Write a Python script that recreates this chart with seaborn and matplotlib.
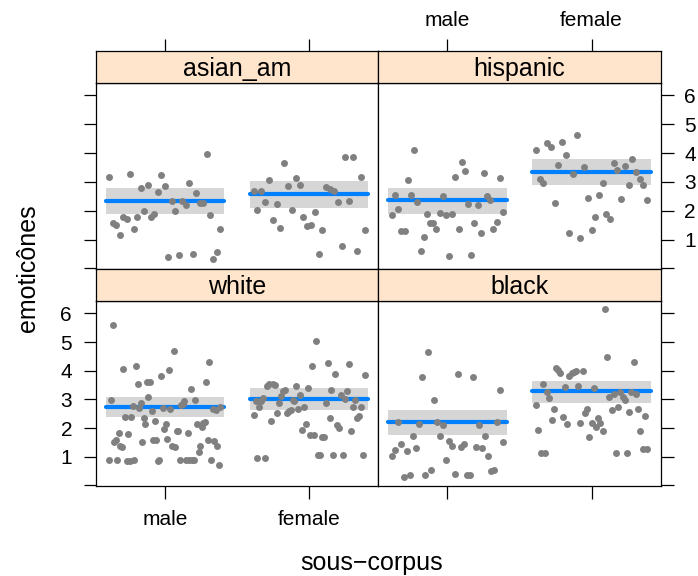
import numpy as np
import pandas as pd
import matplotlib
matplotlib.use("Agg")
import matplotlib.pyplot as plt
import seaborn as sns

sns.set_style("white")
plt.rcParams['font.family'] = ['Liberation Sans', 'DejaVu Sans']
plt.rcParams['text.color'] = 'black'
plt.rcParams['xtick.color'] = 'black'
plt.rcParams['ytick.color'] = 'black'
plt.rcParams['xtick.labelcolor'] = 'black'
plt.rcParams['ytick.labelcolor'] = 'black'

# ---------------- data ----------------
groups = ["male", "female"]
panels = ["asian_am", "hispanic", "white", "black"]
yticks = [0, 1, 2, 3, 4, 5, 6]
yticklabels = ["", "1", "2", "3", "4", "5", "6"]

asian_male = [3.16, 1.58, 1.52, 1.16, 1.77, 1.70, 3.27, 1.37, 1.79, 2.79, 2.00, 2.90, 1.77, 1.87,
              2.64, 3.24, 2.85, 0.39, 2.35, 2.00, 0.46, 2.33, 2.20, 2.95, 0.50, 2.60, 2.26, 2.28,
              3.98, 1.85, 0.34, 0.58, 1.36]
asian_female = [2.69, 2.02, 2.69, 2.30, 3.05, 1.69, 2.23, 1.41, 3.66, 2.85, 2.02, 3.13, 2.88, 1.79,
                1.48, 1.51, 1.94, 0.49, 1.34, 2.84, 2.77, 2.69, 2.32, 0.78, 3.88, 2.35, 3.87, 0.60,
                3.17, 1.32]
hisp_male = [1.85, 2.53, 2.07, 1.31, 1.31, 3.06, 2.56, 4.11, 2.29, 0.61, 1.08, 1.88, 1.56, 1.57,
             1.37, 1.93, 2.52, 1.86, 0.43, 1.89, 3.17, 1.38, 3.69, 3.38, 2.24, 0.45, 1.59, 2.21,
             1.22, 3.30, 2.52, 2.36, 1.36, 1.60, 3.12, 1.94]
hisp_female = [4.11, 3.10, 2.95, 4.34, 4.22, 2.28, 3.58, 4.37, 3.94, 1.22, 3.28, 4.62, 1.05, 3.52,
               2.44, 1.32, 1.78, 2.53, 2.97, 1.89, 1.72, 3.64, 3.41, 2.42, 3.55, 2.91, 3.80, 3.34,
               3.09, 2.88, 2.39]
white_male = [0.90, 2.97, 5.59, 1.52, 1.58, 0.88, 1.84, 1.36, 1.33, 4.05, 2.39, 0.85, 1.78, 0.85,
              2.38, 2.77, 0.87, 4.15, 3.52, 2.69, 2.87, 1.51, 2.35, 2.13, 3.59, 3.07, 3.59, 2.60,
              1.59, 2.26, 1.59, 0.84, 0.88, 3.80, 2.70, 1.96, 2.14, 1.61, 4.03, 2.65, 1.36, 4.70,
              1.33, 1.90, 1.91, 0.88, 2.81, 2.83, 2.95, 0.88, 1.83, 0.88, 3.37, 0.88, 0.88, 2.97,
              2.13, 1.17, 1.39, 2.04, 2.17, 2.21, 3.59, 1.60, 4.30, 0.88, 2.66, 1.54, 2.62, 1.36,
              0.72, 2.74]
white_female = [2.47, 2.94, 0.94, 2.75, 2.95, 3.06, 0.94, 3.48, 3.52, 2.24, 3.55, 3.50, 2.52, 2.88,
                3.12, 3.29, 3.32, 2.51, 2.60, 2.64, 2.97, 2.95, 3.48, 2.68, 3.15, 1.93, 2.73, 2.15,
                3.38, 1.77, 4.17, 1.75, 5.04, 1.07, 1.07, 1.69, 1.68, 2.87, 4.27, 2.35, 3.32, 1.07,
                3.89, 2.09, 2.00, 3.15, 1.06, 3.03, 3.30, 4.25, 1.91, 2.74, 2.97, 2.35, 2.43, 2.72,
                1.07, 3.85]
black_male = [1.02, 1.25, 2.20, 1.46, 0.30, 1.21, 0.36, 1.71, 1.29, 2.14, 3.78, 0.36, 4.64, 0.53,
              2.97, 2.20, 1.74, 2.12, 0.90, 1.56, 1.37, 0.39, 3.89, 1.33, 1.44, 0.36, 0.38, 3.77,
              1.34, 2.12, 1.31, 1.74, 1.02, 0.50, 0.54, 2.21, 3.32, 1.51]
black_female = [2.79, 1.92, 1.13, 3.53, 1.13, 3.26, 3.04, 2.27, 2.67, 4.08, 4.03, 3.91, 2.37, 3.43,
                2.14, 3.80, 3.91, 3.97, 3.98, 3.48, 2.17, 4.00, 2.52, 2.65, 1.68, 2.19, 3.40, 2.05,
                2.35, 2.19, 1.91, 6.14, 4.47, 3.07, 2.62, 3.19, 1.14, 2.73, 3.27, 3.07, 2.99, 1.13,
                2.56, 3.27, 4.32, 3.18, 2.67, 1.91, 1.26, 2.43, 1.26]

# fitted means with confidence bounds: [male, female]
fit_asian = [2.33, 2.58]; lo_asian = [1.87, 2.10]; hi_asian = [2.80, 3.02]
fit_hisp = [2.36, 3.35]; lo_hisp = [1.89, 2.88]; hi_hisp = [2.79, 3.80]
fit_white = [2.73, 3.00]; lo_white = [2.37, 2.64]; hi_white = [3.09, 3.38]
fit_black = [2.21, 3.28]; lo_black = [1.77, 2.89]; hi_black = [2.64, 3.64]

points = {
    "asian_am": (asian_male, asian_female),
    "hispanic": (hisp_male, hisp_female),
    "white": (white_male, white_female),
    "black": (black_male, black_female),
}
fits = {
    "asian_am": (fit_asian, lo_asian, hi_asian),
    "hispanic": (fit_hisp, lo_hisp, hi_hisp),
    "white": (fit_white, lo_white, hi_white),
    "black": (fit_black, lo_black, hi_black),
}

# long table; jitter spreads points evenly across the category slot
rows_ = []
for p in panels:
    for gi, vals in enumerate(points[p]):
        pos = np.linspace(gi + 1 - 0.385, gi + 1 + 0.385, len(vals))
        for xv, yv in zip(pos, vals):
            rows_.append({"panel": p, "group": groups[gi], "xpos": xv, "value": yv})
df = pd.DataFrame(rows_)

# ---------------- layout ----------------
W, H = 698, 576
fig = plt.figure(figsize=(W / 100, H / 100), dpi=100)


def rect(x0, x1, ytop, ybot):
    return [x0 / W, 1 - ybot / H, (x1 - x0) / W, (ybot - ytop) / H]


cols = [(95.7, 378.3), (378.3, 660.7)]
rowspec = [(51, 83, 269), (269, 301, 486)]
grid = {"asian_am": (0, 0), "hispanic": (0, 1), "white": (1, 0), "black": (1, 1)}

STRIP = "#ffe5cc"
PT = "#808080"
BLUE = "#0080ff"
BAND = "#d6d6d6"
XLIM = (0.52, 2.48)
YLIM = (-0.02, 6.43)
TICKFS = 15
LW = 0.9
TL = 9

for p in panels:
    r, c = grid[p]
    x0, x1 = cols[c]
    st, pt, pb = rowspec[r]
    ax = fig.add_axes(rect(x0, x1, pt, pb))
    sax = fig.add_axes(rect(x0, x1, st, pt))

    fv, lo, hi = fits[p]
    for gi in range(2):
        cx = gi + 1
        ax.fill_between([cx - 0.41, cx + 0.41], [lo[gi]] * 2, [hi[gi]] * 2,
                        color=BAND, linewidth=0, zorder=1)
        ax.plot([cx - 0.41, cx + 0.41], [fv[gi]] * 2, color=BLUE, lw=3,
                solid_capstyle="round", zorder=2)
    sns.scatterplot(data=df[df.panel == p], x="xpos", y="value", ax=ax,
                    color=PT, s=25, linewidth=0, legend=False, zorder=3)

    ax.set_xlim(*XLIM)
    ax.set_ylim(*YLIM)
    ax.set_xlabel("")
    ax.set_ylabel("")
    for s in ax.spines.values():
        s.set_linewidth(LW)
        s.set_color("black")
        s.set_visible(True)

    ax.set_xticks([1, 2])
    ax.set_yticks(yticks)
    ax.set_xticklabels(groups)
    ax.set_yticklabels(yticklabels)
    ax.tick_params(axis="both", direction="out", length=TL, width=LW, color="black",
                   labelcolor="black", labelsize=TICKFS, pad=8,
                   bottom=(r == 1), labelbottom=(r == 1 and c == 0),
                   top=False, labeltop=False,
                   left=(c == 0), labelleft=(c == 0 and r == 1),
                   right=(c == 1), labelright=(c == 1 and r == 0))

    # strip
    sax.set_facecolor(STRIP)
    sax.set_xlim(*XLIM)
    sax.set_ylim(0, 1)
    sax.set_yticks([])
    for s in sax.spines.values():
        s.set_linewidth(LW)
        s.set_color("black")
        s.set_visible(True)
    sax.set_xticks([1, 2])
    sax.set_xticklabels(groups)
    sax.tick_params(axis="x", direction="out", length=TL, width=LW, color="black",
                    labelcolor="black", labelsize=TICKFS, pad=6,
                    bottom=False, labelbottom=False,
                    top=(r == 0), labeltop=(r == 0 and c == 1))
    sax.text(0.5, 0.45, p, ha="center", va="center", fontsize=18, color="black",
             transform=sax.transAxes)

fig.text(372 / W, 1 - 563 / H, "sous\u2212corpus", ha="center", va="center", fontsize=18,
         color="black")
fig.text(28 / W, 1 - 268 / H, "emoticônes", ha="center", va="center", fontsize=18,
         rotation=90, color="black")

fig.savefig("out.png", dpi=100)
